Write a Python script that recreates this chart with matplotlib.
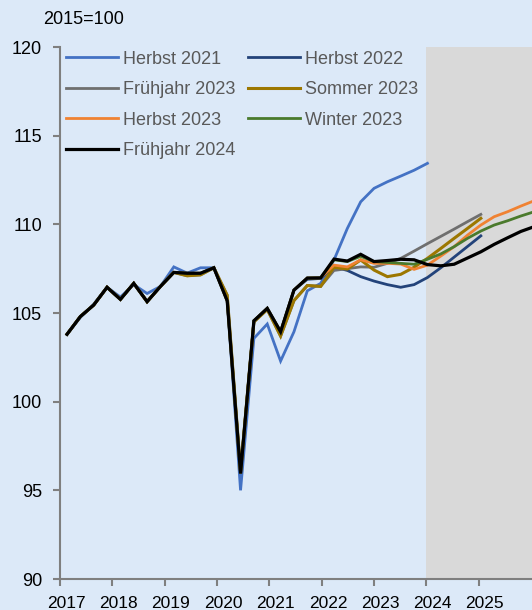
import matplotlib
matplotlib.use("Agg")
import matplotlib.pyplot as plt

plt.rcParams['font.family'] = ['Liberation Sans', 'DejaVu Sans']

# quarterly index 2017Q1 ... 2025Q4
quarters = [f"{y}Q{q}" for y in range(2017, 2026) for q in range(1, 5)]

herbst_2021 = [103.8, 104.75, 105.5, 106.45, 105.9, 106.6, 106.1, 106.5,
               107.6, 107.25, 107.55, 107.55, 105.8, 95.0, 103.57, 104.38,
               102.29, 103.94, 106.25, 106.67, 107.99, 109.77, 111.27, 112.03,
               112.4, 112.72, 113.05, 113.44]
herbst_2022 = [103.8, 104.8, 105.45, 106.45, 105.77, 106.67, 105.64, 106.5,
               107.29, 107.24, 107.24, 107.55, 105.69, 95.95, 104.56, 105.26,
               103.94, 106.29, 106.9, 106.95, 107.6, 107.4, 107.05, 106.8,
               106.6, 106.45, 106.6, 107.0, 107.55, 108.15, 108.75, 109.35]
fruehjahr_2023 = [103.8, 104.8, 105.45, 106.45, 105.77, 106.67, 105.64, 106.5,
                  107.29, 107.1, 107.15, 107.55, 106.0, 96.1, 104.5, 105.2,
                  103.7, 105.7, 106.55, 106.5, 107.4, 107.5, 107.6, 107.58,
                  107.8, 108.08, 108.49, 108.91, 109.32, 109.73, 110.15, 110.56]
sommer_2023 = [103.8, 104.8, 105.45, 106.45, 105.77, 106.67, 105.64, 106.5,
               107.29, 107.1, 107.15, 107.55, 106.0, 96.1, 104.5, 105.2,
               103.7, 105.7, 106.55, 106.5, 107.58, 107.48, 107.99, 107.42,
               107.05, 107.18, 107.58, 108.08, 108.64, 109.21, 109.77, 110.34]
herbst_2023 = [103.8, 104.8, 105.45, 106.45, 105.77, 106.67, 105.64, 106.5,
               107.29, 107.24, 107.24, 107.55, 105.69, 95.95, 104.56, 105.26,
               103.94, 106.29, 106.97, 106.98, 107.7, 107.6, 108.0, 107.8,
               107.8, 107.76, 107.46, 107.7, 108.21, 108.74, 109.39, 109.96,
               110.43, 110.71, 111.03, 111.33]
winter_2023 = [103.8, 104.8, 105.45, 106.45, 105.77, 106.67, 105.64, 106.5,
               107.29, 107.24, 107.24, 107.55, 105.69, 95.95, 104.56, 105.26,
               103.94, 106.29, 106.97, 106.98, 108.0, 107.9, 108.2, 107.9,
               107.85, 107.8, 107.75, 108.03, 108.33, 108.74, 109.21, 109.62,
               109.96, 110.2, 110.47, 110.71]
fruehjahr_2024 = [103.8, 104.8, 105.45, 106.45, 105.77, 106.67, 105.64, 106.5,
                  107.29, 107.24, 107.24, 107.55, 105.69, 95.95, 104.56, 105.26,
                  103.94, 106.29, 106.97, 106.98, 108.04, 107.93, 108.31, 107.9,
                  107.96, 108.03, 108.0, 107.73, 107.66, 107.75, 108.1, 108.45,
                  108.87, 109.24, 109.6, 109.87]

series_names = ["Herbst 2021", "Herbst 2022", "Frühjahr 2023", "Sommer 2023",
                "Herbst 2023", "Winter 2023", "Frühjahr 2024"]
series_values = [herbst_2021, herbst_2022, fruehjahr_2023, sommer_2023,
                 herbst_2023, winter_2023, fruehjahr_2024]
colors = ["#4472C4", "#23437A", "#6F6F6F", "#9C7700", "#F08232", "#4A7A2C", "#000000"]
widths = [2.0, 2.0, 2.0, 2.2, 2.0, 2.0, 2.3]

year_labels = ["2017", "2018", "2019", "2020", "2021", "2022", "2023", "2024", "2025"]
y_ticks = [90, 95, 100, 105, 110, 115, 120]

# layout constants (in years)
X0 = 2017.134
STEP = 0.2551
XMAX = 2026.02
FORECAST_START = 2024.0

bg = "#DCE9F8"
fig = plt.figure(figsize=(5.32, 6.10), dpi=100, facecolor=bg)
ax = fig.add_axes([60/532, 31/610, 472/532, 532/610])
ax.set_facecolor(bg)

ax.axvspan(FORECAST_START, XMAX + 1, color="#D9D9D9", zorder=0, lw=0)

handles = []
for name, vals, c, w in zip(series_names, series_values, colors, widths):
    xs = [X0 + STEP * i for i in range(len(vals))]
    h, = ax.plot(xs, vals, color=c, lw=w, label=name, zorder=3,
                 solid_joinstyle='miter')
    handles.append(h)

ax.set_xlim(2017, XMAX)
ax.set_ylim(90, 120)

for s in ["top", "right"]:
    ax.spines[s].set_visible(False)
for s in ["left", "bottom"]:
    ax.spines[s].set_color("#7F7F7F")
    ax.spines[s].set_linewidth(1.5)

ax.set_yticks(y_ticks)
ax.set_yticklabels([str(v) for v in y_ticks], fontsize=13)
ax.tick_params(axis='y', length=5, width=1.5, color="#7F7F7F", pad=8)

years = [2017 + k for k in range(len(year_labels))]
ax.set_xticks(years)
ax.set_xticklabels([])
ax.tick_params(axis='x', which='major', length=5, width=1.5, color="#7F7F7F")
ax.set_xticks([y + 0.12 for y in years], minor=True)
ax.set_xticklabels(year_labels, minor=True, fontsize=12.5,
                   family=['Liberation Sans Narrow', 'Liberation Sans'])
ax.tick_params(axis='x', which='minor', length=0, pad=12)

fig.text(43/532, 1 - 20/610, "2015=100", fontsize=13, ha='left', va='center')

order = [0, 2, 4, 6, 1, 3, 5]
leg = ax.legend([handles[i] for i in order], [series_names[i] for i in order],
                ncol=2, loc='upper left', bbox_to_anchor=(0.012, 0.993),
                frameon=False, fontsize=13, handlelength=2.9, handletextpad=0.3,
                labelspacing=0.75, columnspacing=0.65, borderpad=0, borderaxespad=0)
for t in leg.get_texts():
    t.set_color("#595959")

fig.savefig("out.png", dpi=100, facecolor=bg)
